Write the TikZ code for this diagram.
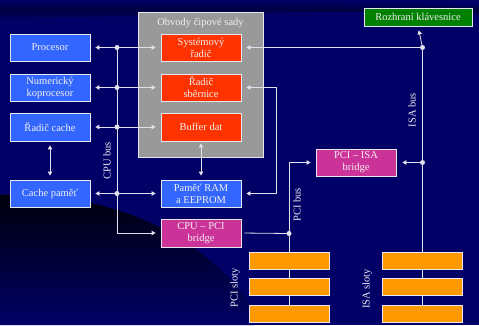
\documentclass[tikz,border=0pt]{standalone}
\usepackage{fontspec}
\setmainfont{Liberation Serif}
\usetikzlibrary{calc, arrows.meta, positioning}

\definecolor{navy}{RGB}{0,0,102}
\definecolor{boxblue}{RGB}{51,102,255}
\definecolor{boxred}{RGB}{255,51,0}
\definecolor{boxpink}{RGB}{204,51,153}
\definecolor{boxgreen}{RGB}{0,128,0}
\definecolor{boxorange}{RGB}{255,153,0}
\definecolor{chipgray}{RGB}{153,153,153}
\definecolor{txt}{RGB}{240,240,240}
\definecolor{wire}{RGB}{225,225,235}

\tikzset{
  unit/.style = {draw = wire!80, line width = 0.8pt, text = txt, align = center,
                 minimum width = 80pt, minimum height = 27pt, inner sep = 1pt,
                 font = \rmfamily\fontsize{10.5}{12}\selectfont},
  cpubox/.style = {unit, fill = boxblue},
  chipbox/.style = {unit, fill = boxred},
  bridgebox/.style = {unit, fill = boxpink},
  slotbox/.style = {draw = wire!80, line width = 0.8pt, fill = boxorange,
                    minimum width = 80pt, minimum height = 17pt, inner sep = 0pt},
  wirelink/.style = {draw = wire, line width = 0.8pt},
  onearrow/.style = {wirelink, -{Triangle[length=4pt, width=4.5pt]}, shorten > = 5pt},
  twoarrow/.style = {wirelink, {Triangle[length=4pt, width=4.5pt]}-{Triangle[length=4pt, width=4.5pt]},
                     shorten > = 5pt, shorten < = 5pt},
  busname/.style = {text = txt, rotate = 90, font = \rmfamily\fontsize{10.5}{12}\selectfont, inner sep = 0pt}
}

\begin{document}
\begin{tikzpicture}[x = 1pt, y = -1pt]
\def\dotRadius{2.5}
\def\cpuX{117}
\def\pciX{289}
\def\isaX{422.5}

%background
\fill[navy] (0,0) rectangle (479,325);
\useasboundingbox (0,0) rectangle (479,325);
\shade[top color = black!90!navy, bottom color = navy]
  (0,195) .. controls (120,192) and (205,238) .. (255,310) -- (255,325) -- (0,325) -- cycle;
\shade[top color = navy, bottom color = navy, middle color = black!70!navy, opacity = 0.5]
  (0,2) .. controls (150,4) and (300,0) .. (479,6) -- (479,14) .. controls (300,8) and (150,16) .. (0,20) -- cycle;

%chipset frame
\node[draw = wire!80, line width = 0.8pt, fill = chipgray, minimum width = 125pt, minimum height = 145pt]
  (chipset) at (200.5,84.5) {};
\node[text = txt, font = \rmfamily\fontsize{10.5}{12}\selectfont, below = 3pt of chipset.north] (chiptitle) {Obvody čipové sady};

%left column
\node[cpubox] (procesor) at (50,47.5) {Procesor};
\node[cpubox] (koprocesor) at (50,87.5) {Numerický\\koprocesor};
\node[cpubox, minimum height = 28pt] (cachectl) at (50,127) {Řadič cache};
\node[cpubox] (cachemem) at (50,193.5) {Cache paměť};

%middle column
\node[chipbox] (sysctl) at (201,47.5) {Systémový\\řadič};
\node[chipbox] (busctl) at (201,87.5) {Řadič\\sběrnice};
\node[chipbox, minimum height = 28pt] (buffer) at (201,127) {Buffer dat};
\node[cpubox] (ram) at (201,193.5) {Paměť RAM\\a EEPROM};
\node[bridgebox, minimum height = 28pt] (cpupci) at (201,233) {CPU – PCI\\bridge};

%right part
\node[bridgebox] (pciisa) at (356,162.5) {PCI – ISA\\bridge};
\node[unit, fill = boxgreen, minimum width = 108pt, minimum height = 18pt] (kbd) at (418,17) {Rozhraní klávesnice};

\foreach \i/\y in {1/260.5, 2/287, 3/314}{
  \node[slotbox] (pci\i) at (\pciX,\y) {};
  \node[slotbox] (isa\i) at (\isaX,\y) {};
}

%bus junctions
\coordinate (cpuA) at (\cpuX,47.5);
\coordinate (cpuB) at (\cpuX,87.5);
\coordinate (cpuC) at (\cpuX,127);
\coordinate (cpuD) at (\cpuX,193.5);
\coordinate (sbj) at (276,87.5);
\coordinate (isaA) at (\isaX,47.5);
\coordinate (isaB) at (\isaX,162.5);
\coordinate (pciA) at (\pciX,162.5);
\coordinate (pciB) at (\pciX,233.5);

%cpu bus
\draw[twoarrow] (procesor) -- (sysctl);
\draw[twoarrow] (koprocesor) -- (busctl);
\draw[twoarrow] (cachectl) -- (buffer);
\draw[twoarrow] (cachemem) -- (ram);
\draw[onearrow] (cpuA) |- (cpupci.west);
\draw[twoarrow, shorten < = 4pt, shorten > = 4pt] (cachectl) -- (cachemem);
\draw[twoarrow, shorten < = 2pt, shorten > = 4pt] (buffer) -- (ram);
\draw[twoarrow] (busctl.east) -- (sbj) |- (ram.east);

%isa bus
\draw[onearrow] (isaA) -- (sysctl.east);
\draw[onearrow, shorten > = 4pt] (isaA) -- (kbd.south);
\draw[wirelink] (isaA) -- (isa1.north);
\draw[onearrow, shorten > = 6pt] (isaB) -- (pciisa.east);

%pci bus
\draw[onearrow, shorten > = 5pt] (pciA) -- (pciisa.west);
\draw[wirelink] (pciA) -- (pci1.north);
\draw[wirelink, shorten < = 3pt] (cpupci.east) -- (pciB);

%slot links
\foreach \a/\b in {1/2, 2/3}{
  \draw[wirelink] (pci\a.south) -- (pci\b.north);
  \draw[wirelink] (isa\a.south) -- (isa\b.north);
}

%dots
\foreach \p in {cpuA, cpuB, cpuC, cpuD, isaA, isaB, pciB}
  \fill[wire] (\p) circle (\dotRadius);

%label
\node[busname] (cpulabel) at (107,161) {CPU bus};
\node[busname] (isalabel) at (412,110) {ISA bus};
\node[busname] (pcilabel) at (297,205) {PCI bus};
\node[busname] (pcislots) at (235,288) {PCI sloty};
\node[busname] (isaslots) at (367,289) {ISA sloty};

\end{tikzpicture}
\end{document}
